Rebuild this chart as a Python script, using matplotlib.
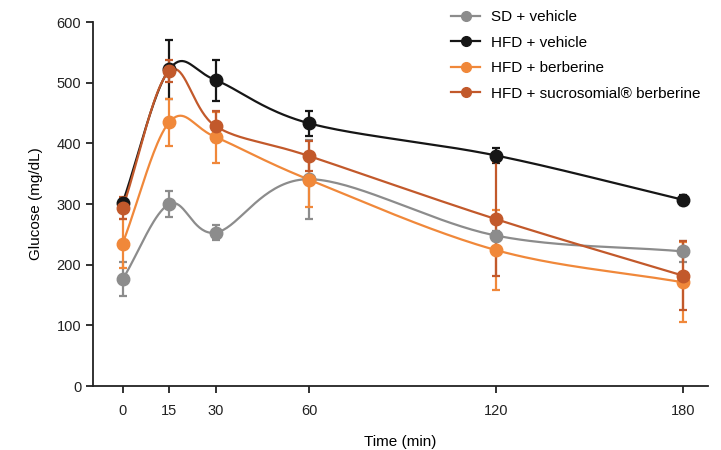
import matplotlib.pyplot as plt
import numpy as np

plt.rcParams["font.family"] = ["Liberation Sans", "DejaVu Sans"]

time_min = [0, 15, 30, 60, 120, 180]
tick_values = [0, 15, 30, 60, 120, 180]

series_names = [
    "SD + vehicle",
    "HFD + vehicle",
    "HFD + berberine",
    "HFD + sucrosomial® berberine",
]
sd_vehicle = [176, 300, 253, 341, 248, 222]
sd_vehicle_err = [28, 21, 13, 65, 8, 17]
hfd_vehicle = [302, 522, 504, 433, 380, 307]
hfd_vehicle_err = [8, 48, 34, 20, 12, 8]
hfd_berberine = [235, 435, 410, 340, 224, 171]
hfd_berberine_err = [40, 39, 42, 45, 66, 66]
hfd_sucro = [293, 519, 428, 379, 275, 182]
hfd_sucro_err = [18, 18, 25, 25, 94, 57]

colors = ["#8c8c8c", "#161616", "#f0883a", "#c2592b"]


def smooth(x, y, n=40):
    # Catmull-Rom style smoothing, roughly like the spreadsheet "smoothed line"
    x = np.asarray(x, float)
    y = np.asarray(y, float)
    px = np.concatenate([[2 * x[0] - x[1]], x, [2 * x[-1] - x[-2]]])
    py = np.concatenate([[2 * y[0] - y[1]], y, [2 * y[-1] - y[-2]]])
    xs, ys = [], []
    for i in range(1, len(px) - 2):
        t = np.linspace(0, 1, n)
        for arr, out in ((px, xs), (py, ys)):
            p0, p1, p2, p3 = arr[i - 1], arr[i], arr[i + 1], arr[i + 2]
            out.append(0.5 * ((2 * p1) + (-p0 + p2) * t
                              + (2 * p0 - 5 * p1 + 4 * p2 - p3) * t ** 2
                              + (-p0 + 3 * p1 - 3 * p2 + p3) * t ** 3))
    return np.concatenate(xs), np.concatenate(ys)


fig = plt.figure(figsize=(7.21, 4.5), dpi=100)
ax = fig.add_axes([0.129, 0.142, 0.853, 0.809])

data = [
    (sd_vehicle, sd_vehicle_err),
    (hfd_vehicle, hfd_vehicle_err),
    (hfd_berberine, hfd_berberine_err),
    (hfd_sucro, hfd_sucro_err),
]
for name, (vals, errs), c in zip(series_names, data, colors):
    sx, sy = smooth(time_min, vals)
    ax.plot(sx, sy, color=c, lw=1.6, zorder=2)
    ax.errorbar(time_min, vals, yerr=errs, fmt="none", ecolor=c,
                elinewidth=1.6, capsize=3, capthick=1.6, zorder=3)
    ax.plot(time_min, vals, "o", color=c, ms=9, zorder=4)
    ax.plot([], [], "-o", color=c, ms=7, lw=1.6, label=name)

ax.set_xlim(-9.5, 188)
ax.set_ylim(0, 600)
ax.set_yticks(range(0, 601, 100))
ax.set_xticks(tick_values)
ax.spines["top"].set_visible(False)
ax.spines["right"].set_visible(False)
for s in ("left", "bottom"):
    ax.spines[s].set_linewidth(1.3)
    ax.spines[s].set_color("#222222")
ax.tick_params(axis="both", direction="out", length=5, width=1.3,
               labelsize=10.5, colors="#222222")
ax.tick_params(axis="x", pad=8)

ax.set_xlabel("Time (min)", fontsize=11, labelpad=12)
ax.set_ylabel("Glucose (mg/dL)", fontsize=11, labelpad=10)

leg = ax.legend(loc="upper left", bbox_to_anchor=(0.56, 1.07), frameon=False,
                fontsize=11, handlelength=1.9, labelspacing=0.75,
                handletextpad=0.7)

fig.savefig("out.png", dpi=100)
